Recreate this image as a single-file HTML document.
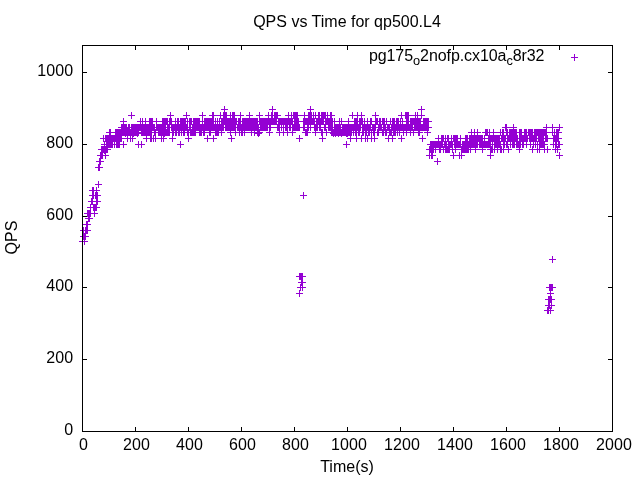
<!DOCTYPE html>
<html><head><meta charset="utf-8"><title>QPS vs Time for qp500.L4</title>
<style>
html,body{margin:0;padding:0;background:#fff;}
body{width:640px;height:480px;overflow:hidden;}
svg{display:block;}
text{font-family:"Liberation Sans",Arial,sans-serif;font-size:16px;fill:#000;}
.n{letter-spacing:0.1px;}
.ax{stroke:#000;stroke-width:1;fill:none;shape-rendering:crispEdges;}
.pt{stroke:#9400d3;stroke-width:1;fill:none;shape-rendering:crispEdges;}
</style></head><body>
<svg width="640" height="480" viewBox="0 0 640 480">
<rect x="0" y="0" width="640" height="480" fill="#ffffff"/>
<text x="347" y="27" text-anchor="middle">QPS vs Time for qp500.L4</text>
<text transform="translate(17,237.5) rotate(-90)" text-anchor="middle">QPS</text>
<text x="347" y="472" text-anchor="middle">Time(s)</text>
<path class="ax" d="M82.5,431v-4M82.5,46v4M135.5,431v-4M135.5,46v4M188.5,431v-4M188.5,46v4M241.5,431v-4M241.5,46v4M294.5,431v-4M294.5,46v4M347.5,431v-4M347.5,46v4M400.5,431v-4M400.5,46v4M453.5,431v-4M453.5,46v4M506.5,431v-4M506.5,46v4M559.5,431v-4M559.5,46v4M612.5,431v-4M612.5,46v4M83,431.5h4M612,431.5h-4M83,359.5h4M612,359.5h-4M83,287.5h4M612,287.5h-4M83,216.5h4M612,216.5h-4M83,144.5h4M612,144.5h-4M83,72.5h4M612,72.5h-4"/>
<text x="79.0" y="450" class="n">0</text>
<text x="123.0" y="450" class="n">200</text>
<text x="176.0" y="450" class="n">400</text>
<text x="229.0" y="450" class="n">600</text>
<text x="282.0" y="450" class="n">800</text>
<text x="331.0" y="450" class="n">1000</text>
<text x="384.0" y="450" class="n">1200</text>
<text x="437.0" y="450" class="n">1400</text>
<text x="490.0" y="450" class="n">1600</text>
<text x="543.0" y="450" class="n">1800</text>
<text x="596.0" y="450" class="n">2000</text>
<text x="64.2" y="435" class="n">0</text>
<text x="46.2" y="363" class="n">200</text>
<text x="46.2" y="291" class="n">400</text>
<text x="46.2" y="220" class="n">600</text>
<text x="46.2" y="148" class="n">800</text>
<text x="37.2" y="76" class="n">1000</text>
<text x="368.9" y="61" textLength="175.6" lengthAdjust="spacing">pg175<tspan font-size="12.8px" dy="3.6">o</tspan><tspan dy="-3.6">2nofp.cx10a</tspan><tspan font-size="12.8px" dy="3.6">c</tspan><tspan dy="-3.6">8r32</tspan></text>
<path class="pt" d="M571,57.5h7M574.5,54v7M79,241.5h7M82.5,238v7M81,241.5h7M84.5,238v7M80,236.5h7M83.5,233v7M81,236.5h7M84.5,233v7M82,236.5h7M85.5,233v7M80,230.5h7M83.5,227v7M82,230.5h7M85.5,227v7M83,230.5h7M86.5,227v7M84,230.5h7M87.5,227v7M83,224.5h7M86.5,221v7M84,224.5h7M87.5,221v7M85,218.5h7M88.5,215v7M86,218.5h7M89.5,215v7M84,213.5h7M87.5,210v7M85,213.5h7M88.5,210v7M86,213.5h7M89.5,210v7M87,213.5h7M90.5,210v7M91,213.5h7M94.5,210v7M87,207.5h7M90.5,204v7M90,207.5h7M93.5,204v7M91,207.5h7M94.5,204v7M92,207.5h7M95.5,204v7M93,207.5h7M96.5,204v7M88,201.5h7M91.5,198v7M89,201.5h7M92.5,198v7M93,201.5h7M96.5,198v7M94,201.5h7M97.5,198v7M89,195.5h7M92.5,192v7M90,195.5h7M93.5,192v7M92,195.5h7M95.5,192v7M93,195.5h7M96.5,192v7M94,195.5h7M97.5,192v7M89,190.5h7M92.5,187v7M90,190.5h7M93.5,187v7M93,190.5h7M96.5,187v7M95,184.5h7M98.5,181v7M95,167.5h7M98.5,164v7M96,167.5h7M99.5,164v7M96,161.5h7M99.5,158v7M97,161.5h7M100.5,158v7M97,155.5h7M100.5,152v7M98,155.5h7M101.5,152v7M99,155.5h7M102.5,152v7M102,155.5h7M105.5,152v7M98,149.5h7M101.5,146v7M99,149.5h7M102.5,146v7M100,149.5h7M103.5,146v7M101,149.5h7M104.5,146v7M102,149.5h7M105.5,146v7M103,149.5h7M106.5,146v7M104,149.5h7M107.5,146v7M101,144.5h7M104.5,141v7M103,144.5h7M106.5,141v7M104,144.5h7M107.5,141v7M105,144.5h7M108.5,141v7M106,144.5h7M109.5,141v7M107,144.5h7M110.5,141v7M108,144.5h7M111.5,141v7M109,144.5h7M112.5,141v7M111,144.5h7M114.5,141v7M113,144.5h7M116.5,141v7M114,144.5h7M117.5,141v7M115,144.5h7M118.5,141v7M116,144.5h7M119.5,141v7M120,144.5h7M123.5,141v7M135,144.5h7M138.5,141v7M138,144.5h7M141.5,141v7M100,138.5h7M103.5,135v7M102,138.5h7M105.5,135v7M103,138.5h7M106.5,135v7M104,138.5h7M107.5,135v7M105,138.5h7M108.5,135v7M106,138.5h7M109.5,135v7M107,138.5h7M110.5,135v7M108,138.5h7M111.5,135v7M109,138.5h7M112.5,135v7M110,138.5h7M113.5,135v7M111,138.5h7M114.5,135v7M112,138.5h7M115.5,135v7M113,138.5h7M116.5,135v7M114,138.5h7M117.5,135v7M115,138.5h7M118.5,135v7M116,138.5h7M119.5,135v7M117,138.5h7M120.5,135v7M118,138.5h7M121.5,135v7M124,138.5h7M127.5,135v7M127,138.5h7M130.5,135v7M129,138.5h7M132.5,135v7M143,138.5h7M146.5,135v7M147,138.5h7M150.5,135v7M148,138.5h7M151.5,135v7M150,138.5h7M153.5,135v7M152,138.5h7M155.5,135v7M158,138.5h7M161.5,135v7M160,138.5h7M163.5,135v7M169,138.5h7M172.5,135v7M106,132.5h7M109.5,129v7M107,132.5h7M110.5,129v7M112,132.5h7M115.5,129v7M113,132.5h7M116.5,129v7M114,132.5h7M117.5,129v7M115,132.5h7M118.5,129v7M116,132.5h7M119.5,129v7M117,132.5h7M120.5,129v7M118,132.5h7M121.5,129v7M119,132.5h7M122.5,129v7M120,132.5h7M123.5,129v7M121,132.5h7M124.5,129v7M122,132.5h7M125.5,129v7M123,132.5h7M126.5,129v7M124,132.5h7M127.5,129v7M125,132.5h7M128.5,129v7M126,132.5h7M129.5,129v7M127,132.5h7M130.5,129v7M128,132.5h7M131.5,129v7M129,132.5h7M132.5,129v7M130,132.5h7M133.5,129v7M131,132.5h7M134.5,129v7M132,132.5h7M135.5,129v7M133,132.5h7M136.5,129v7M134,132.5h7M137.5,129v7M135,132.5h7M138.5,129v7M138,132.5h7M141.5,129v7M139,132.5h7M142.5,129v7M140,132.5h7M143.5,129v7M141,132.5h7M144.5,129v7M142,132.5h7M145.5,129v7M143,132.5h7M146.5,129v7M144,132.5h7M147.5,129v7M145,132.5h7M148.5,129v7M146,132.5h7M149.5,129v7M147,132.5h7M150.5,129v7M148,132.5h7M151.5,129v7M151,132.5h7M154.5,129v7M152,132.5h7M155.5,129v7M155,132.5h7M158.5,129v7M156,132.5h7M159.5,129v7M157,132.5h7M160.5,129v7M158,132.5h7M161.5,129v7M159,132.5h7M162.5,129v7M160,132.5h7M163.5,129v7M161,132.5h7M164.5,129v7M162,132.5h7M165.5,129v7M163,132.5h7M166.5,129v7M164,132.5h7M167.5,129v7M165,132.5h7M168.5,129v7M166,132.5h7M169.5,129v7M169,132.5h7M172.5,129v7M170,132.5h7M173.5,129v7M172,132.5h7M175.5,129v7M118,127.5h7M121.5,124v7M119,127.5h7M122.5,124v7M120,127.5h7M123.5,124v7M121,127.5h7M124.5,124v7M122,127.5h7M125.5,124v7M123,127.5h7M126.5,124v7M125,127.5h7M128.5,124v7M126,127.5h7M129.5,124v7M128,127.5h7M131.5,124v7M129,127.5h7M132.5,124v7M130,127.5h7M133.5,124v7M131,127.5h7M134.5,124v7M132,127.5h7M135.5,124v7M133,127.5h7M136.5,124v7M134,127.5h7M137.5,124v7M135,127.5h7M138.5,124v7M136,127.5h7M139.5,124v7M137,127.5h7M140.5,124v7M138,127.5h7M141.5,124v7M139,127.5h7M142.5,124v7M140,127.5h7M143.5,124v7M141,127.5h7M144.5,124v7M142,127.5h7M145.5,124v7M143,127.5h7M146.5,124v7M144,127.5h7M147.5,124v7M145,127.5h7M148.5,124v7M146,127.5h7M149.5,124v7M147,127.5h7M150.5,124v7M148,127.5h7M151.5,124v7M149,127.5h7M152.5,124v7M150,127.5h7M153.5,124v7M151,127.5h7M154.5,124v7M153,127.5h7M156.5,124v7M154,127.5h7M157.5,124v7M155,127.5h7M158.5,124v7M156,127.5h7M159.5,124v7M157,127.5h7M160.5,124v7M158,127.5h7M161.5,124v7M159,127.5h7M162.5,124v7M160,127.5h7M163.5,124v7M161,127.5h7M164.5,124v7M162,127.5h7M165.5,124v7M164,127.5h7M167.5,124v7M165,127.5h7M168.5,124v7M166,127.5h7M169.5,124v7M168,127.5h7M171.5,124v7M169,127.5h7M172.5,124v7M170,127.5h7M173.5,124v7M171,127.5h7M174.5,124v7M172,127.5h7M175.5,124v7M173,127.5h7M176.5,124v7M120,121.5h7M123.5,118v7M137,121.5h7M140.5,118v7M139,121.5h7M142.5,118v7M142,121.5h7M145.5,118v7M146,121.5h7M149.5,118v7M147,121.5h7M150.5,118v7M148,121.5h7M151.5,118v7M149,121.5h7M152.5,118v7M153,121.5h7M156.5,118v7M159,121.5h7M162.5,118v7M160,121.5h7M163.5,118v7M161,121.5h7M164.5,118v7M162,121.5h7M165.5,118v7M163,121.5h7M166.5,118v7M164,121.5h7M167.5,118v7M166,121.5h7M169.5,118v7M167,121.5h7M170.5,118v7M168,121.5h7M171.5,118v7M172,121.5h7M175.5,118v7M128,115.5h7M131.5,112v7M167,115.5h7M170.5,112v7M134,133.5h7M137.5,130v7M177,144.5h7M180.5,141v7M185,138.5h7M188.5,135v7M204,138.5h7M207.5,135v7M175,132.5h7M178.5,129v7M176,132.5h7M179.5,129v7M178,132.5h7M181.5,129v7M180,132.5h7M183.5,129v7M181,132.5h7M184.5,129v7M184,132.5h7M187.5,129v7M185,132.5h7M188.5,129v7M187,132.5h7M190.5,129v7M188,132.5h7M191.5,129v7M189,132.5h7M192.5,129v7M190,132.5h7M193.5,129v7M191,132.5h7M194.5,129v7M192,132.5h7M195.5,129v7M196,132.5h7M199.5,129v7M197,132.5h7M200.5,129v7M200,132.5h7M203.5,129v7M201,132.5h7M204.5,129v7M206,132.5h7M209.5,129v7M207,132.5h7M210.5,129v7M174,127.5h7M177.5,124v7M175,127.5h7M178.5,124v7M176,127.5h7M179.5,124v7M177,127.5h7M180.5,124v7M178,127.5h7M181.5,124v7M179,127.5h7M182.5,124v7M180,127.5h7M183.5,124v7M181,127.5h7M184.5,124v7M182,127.5h7M185.5,124v7M183,127.5h7M186.5,124v7M184,127.5h7M187.5,124v7M186,127.5h7M189.5,124v7M187,127.5h7M190.5,124v7M189,127.5h7M192.5,124v7M190,127.5h7M193.5,124v7M191,127.5h7M194.5,124v7M192,127.5h7M195.5,124v7M193,127.5h7M196.5,124v7M194,127.5h7M197.5,124v7M195,127.5h7M198.5,124v7M196,127.5h7M199.5,124v7M197,127.5h7M200.5,124v7M198,127.5h7M201.5,124v7M199,127.5h7M202.5,124v7M200,127.5h7M203.5,124v7M201,127.5h7M204.5,124v7M202,127.5h7M205.5,124v7M203,127.5h7M206.5,124v7M204,127.5h7M207.5,124v7M205,127.5h7M208.5,124v7M206,127.5h7M209.5,124v7M207,127.5h7M210.5,124v7M208,127.5h7M211.5,124v7M174,121.5h7M177.5,118v7M175,121.5h7M178.5,118v7M177,121.5h7M180.5,118v7M178,121.5h7M181.5,118v7M179,121.5h7M182.5,118v7M180,121.5h7M183.5,118v7M181,121.5h7M184.5,118v7M182,121.5h7M185.5,118v7M184,121.5h7M187.5,118v7M186,121.5h7M189.5,118v7M187,121.5h7M190.5,118v7M188,121.5h7M191.5,118v7M190,121.5h7M193.5,118v7M191,121.5h7M194.5,118v7M192,121.5h7M195.5,118v7M193,121.5h7M196.5,118v7M194,121.5h7M197.5,118v7M195,121.5h7M198.5,118v7M196,121.5h7M199.5,118v7M199,121.5h7M202.5,118v7M201,121.5h7M204.5,118v7M202,121.5h7M205.5,118v7M203,121.5h7M206.5,118v7M204,121.5h7M207.5,118v7M205,121.5h7M208.5,118v7M206,121.5h7M209.5,118v7M207,121.5h7M210.5,118v7M208,121.5h7M211.5,118v7M183,115.5h7M186.5,112v7M199,115.5h7M202.5,112v7M209,115.5h7M212.5,112v7M221,109.5h7M224.5,106v7M210,115.5h7M213.5,112v7M217,115.5h7M220.5,112v7M220,115.5h7M223.5,112v7M221,115.5h7M224.5,112v7M222,115.5h7M225.5,112v7M223,115.5h7M226.5,112v7M227,115.5h7M230.5,112v7M229,115.5h7M232.5,112v7M230,115.5h7M233.5,112v7M231,115.5h7M234.5,112v7M237,115.5h7M240.5,112v7M209,121.5h7M212.5,118v7M210,121.5h7M213.5,118v7M212,121.5h7M215.5,118v7M214,121.5h7M217.5,118v7M216,121.5h7M219.5,118v7M218,121.5h7M221.5,118v7M219,121.5h7M222.5,118v7M220,121.5h7M223.5,118v7M221,121.5h7M224.5,118v7M222,121.5h7M225.5,118v7M223,121.5h7M226.5,118v7M224,121.5h7M227.5,118v7M225,121.5h7M228.5,118v7M226,121.5h7M229.5,118v7M227,121.5h7M230.5,118v7M228,121.5h7M231.5,118v7M229,121.5h7M232.5,118v7M230,121.5h7M233.5,118v7M231,121.5h7M234.5,118v7M232,121.5h7M235.5,118v7M233,121.5h7M236.5,118v7M235,121.5h7M238.5,118v7M236,121.5h7M239.5,118v7M237,121.5h7M240.5,118v7M239,121.5h7M242.5,118v7M240,121.5h7M243.5,118v7M241,121.5h7M244.5,118v7M242,121.5h7M245.5,118v7M243,121.5h7M246.5,118v7M244,121.5h7M247.5,118v7M209,127.5h7M212.5,124v7M210,127.5h7M213.5,124v7M211,127.5h7M214.5,124v7M212,127.5h7M215.5,124v7M213,127.5h7M216.5,124v7M214,127.5h7M217.5,124v7M215,127.5h7M218.5,124v7M216,127.5h7M219.5,124v7M217,127.5h7M220.5,124v7M218,127.5h7M221.5,124v7M219,127.5h7M222.5,124v7M220,127.5h7M223.5,124v7M222,127.5h7M225.5,124v7M223,127.5h7M226.5,124v7M224,127.5h7M227.5,124v7M225,127.5h7M228.5,124v7M226,127.5h7M229.5,124v7M227,127.5h7M230.5,124v7M228,127.5h7M231.5,124v7M229,127.5h7M232.5,124v7M230,127.5h7M233.5,124v7M231,127.5h7M234.5,124v7M232,127.5h7M235.5,124v7M234,127.5h7M237.5,124v7M235,127.5h7M238.5,124v7M236,127.5h7M239.5,124v7M237,127.5h7M240.5,124v7M238,127.5h7M241.5,124v7M239,127.5h7M242.5,124v7M240,127.5h7M243.5,124v7M241,127.5h7M244.5,124v7M242,127.5h7M245.5,124v7M243,127.5h7M246.5,124v7M244,127.5h7M247.5,124v7M212,132.5h7M215.5,129v7M213,132.5h7M216.5,129v7M214,132.5h7M217.5,129v7M215,132.5h7M218.5,129v7M218,132.5h7M221.5,129v7M227,132.5h7M230.5,129v7M232,132.5h7M235.5,129v7M236,132.5h7M239.5,129v7M238,132.5h7M241.5,129v7M239,132.5h7M242.5,129v7M241,132.5h7M244.5,129v7M210,138.5h7M213.5,135v7M228,138.5h7M231.5,135v7M269,109.5h7M272.5,106v7M246,115.5h7M249.5,112v7M256,115.5h7M259.5,112v7M265,115.5h7M268.5,112v7M268,115.5h7M271.5,112v7M269,115.5h7M272.5,112v7M271,115.5h7M274.5,112v7M272,115.5h7M275.5,112v7M273,115.5h7M276.5,112v7M274,115.5h7M277.5,112v7M245,121.5h7M248.5,118v7M246,121.5h7M249.5,118v7M247,121.5h7M250.5,118v7M248,121.5h7M251.5,118v7M249,121.5h7M252.5,118v7M250,121.5h7M253.5,118v7M251,121.5h7M254.5,118v7M252,121.5h7M255.5,118v7M253,121.5h7M256.5,118v7M254,121.5h7M257.5,118v7M256,121.5h7M259.5,118v7M257,121.5h7M260.5,118v7M258,121.5h7M261.5,118v7M259,121.5h7M262.5,118v7M260,121.5h7M263.5,118v7M261,121.5h7M264.5,118v7M262,121.5h7M265.5,118v7M263,121.5h7M266.5,118v7M264,121.5h7M267.5,118v7M265,121.5h7M268.5,118v7M266,121.5h7M269.5,118v7M267,121.5h7M270.5,118v7M268,121.5h7M271.5,118v7M269,121.5h7M272.5,118v7M270,121.5h7M273.5,118v7M271,121.5h7M274.5,118v7M272,121.5h7M275.5,118v7M273,121.5h7M276.5,118v7M275,121.5h7M278.5,118v7M276,121.5h7M279.5,118v7M277,121.5h7M280.5,118v7M278,121.5h7M281.5,118v7M279,121.5h7M282.5,118v7M280,121.5h7M283.5,118v7M245,127.5h7M248.5,124v7M246,127.5h7M249.5,124v7M247,127.5h7M250.5,124v7M248,127.5h7M251.5,124v7M249,127.5h7M252.5,124v7M250,127.5h7M253.5,124v7M251,127.5h7M254.5,124v7M252,127.5h7M255.5,124v7M253,127.5h7M256.5,124v7M254,127.5h7M257.5,124v7M255,127.5h7M258.5,124v7M257,127.5h7M260.5,124v7M258,127.5h7M261.5,124v7M259,127.5h7M262.5,124v7M260,127.5h7M263.5,124v7M261,127.5h7M264.5,124v7M262,127.5h7M265.5,124v7M263,127.5h7M266.5,124v7M264,127.5h7M267.5,124v7M266,127.5h7M269.5,124v7M267,127.5h7M270.5,124v7M274,127.5h7M277.5,124v7M275,127.5h7M278.5,124v7M276,127.5h7M279.5,124v7M278,127.5h7M281.5,124v7M280,127.5h7M283.5,124v7M248,132.5h7M251.5,129v7M251,132.5h7M254.5,129v7M254,132.5h7M257.5,129v7M256,132.5h7M259.5,129v7M266,132.5h7M269.5,129v7M276,132.5h7M279.5,129v7M280,132.5h7M283.5,129v7M255,133.5h7M258.5,130v7M173,132.5h7M176.5,129v7M198,132.5h7M201.5,129v7M307,109.5h7M310.5,106v7M285,115.5h7M288.5,112v7M288,115.5h7M291.5,112v7M290,115.5h7M293.5,112v7M291,115.5h7M294.5,112v7M292,115.5h7M295.5,112v7M293,115.5h7M296.5,112v7M294,115.5h7M297.5,112v7M301,115.5h7M304.5,112v7M305,115.5h7M308.5,112v7M306,115.5h7M309.5,112v7M307,115.5h7M310.5,112v7M308,115.5h7M311.5,112v7M310,115.5h7M313.5,112v7M312,115.5h7M315.5,112v7M315,115.5h7M318.5,112v7M316,115.5h7M319.5,112v7M281,121.5h7M284.5,118v7M282,121.5h7M285.5,118v7M283,121.5h7M286.5,118v7M284,121.5h7M287.5,118v7M285,121.5h7M288.5,118v7M286,121.5h7M289.5,118v7M287,121.5h7M290.5,118v7M288,121.5h7M291.5,118v7M289,121.5h7M292.5,118v7M291,121.5h7M294.5,118v7M292,121.5h7M295.5,118v7M293,121.5h7M296.5,118v7M294,121.5h7M297.5,118v7M295,121.5h7M298.5,118v7M300,121.5h7M303.5,118v7M301,121.5h7M304.5,118v7M302,121.5h7M305.5,118v7M303,121.5h7M306.5,118v7M304,121.5h7M307.5,118v7M305,121.5h7M308.5,118v7M306,121.5h7M309.5,118v7M307,121.5h7M310.5,118v7M308,121.5h7M311.5,118v7M309,121.5h7M312.5,118v7M310,121.5h7M313.5,118v7M311,121.5h7M314.5,118v7M313,121.5h7M316.5,118v7M314,121.5h7M317.5,118v7M315,121.5h7M318.5,118v7M316,121.5h7M319.5,118v7M282,127.5h7M285.5,124v7M283,127.5h7M286.5,124v7M284,127.5h7M287.5,124v7M286,127.5h7M289.5,124v7M287,127.5h7M290.5,124v7M289,127.5h7M292.5,124v7M290,127.5h7M293.5,124v7M291,127.5h7M294.5,124v7M292,127.5h7M295.5,124v7M293,127.5h7M296.5,124v7M294,127.5h7M297.5,124v7M295,127.5h7M298.5,124v7M296,127.5h7M299.5,124v7M300,127.5h7M303.5,124v7M301,127.5h7M304.5,124v7M304,127.5h7M307.5,124v7M305,127.5h7M308.5,124v7M307,127.5h7M310.5,124v7M311,127.5h7M314.5,124v7M312,127.5h7M315.5,124v7M313,127.5h7M316.5,124v7M314,127.5h7M317.5,124v7M316,127.5h7M319.5,124v7M284,132.5h7M287.5,129v7M289,132.5h7M292.5,129v7M302,132.5h7M305.5,129v7M303,132.5h7M306.5,129v7M304,132.5h7M307.5,129v7M312,132.5h7M315.5,129v7M296,138.5h7M299.5,135v7M318,115.5h7M321.5,112v7M319,115.5h7M322.5,112v7M320,115.5h7M323.5,112v7M321,115.5h7M324.5,112v7M322,115.5h7M325.5,112v7M324,115.5h7M327.5,112v7M327,115.5h7M330.5,112v7M328,115.5h7M331.5,112v7M349,115.5h7M352.5,112v7M317,121.5h7M320.5,118v7M318,121.5h7M321.5,118v7M319,121.5h7M322.5,118v7M320,121.5h7M323.5,118v7M322,121.5h7M325.5,118v7M323,121.5h7M326.5,118v7M324,121.5h7M327.5,118v7M325,121.5h7M328.5,118v7M326,121.5h7M329.5,118v7M327,121.5h7M330.5,118v7M328,121.5h7M331.5,118v7M329,121.5h7M332.5,118v7M331,121.5h7M334.5,118v7M336,121.5h7M339.5,118v7M338,121.5h7M341.5,118v7M345,121.5h7M348.5,118v7M351,121.5h7M354.5,118v7M352,121.5h7M355.5,118v7M317,127.5h7M320.5,124v7M321,127.5h7M324.5,124v7M322,127.5h7M325.5,124v7M325,127.5h7M328.5,124v7M326,127.5h7M329.5,124v7M327,127.5h7M330.5,124v7M328,127.5h7M331.5,124v7M329,127.5h7M332.5,124v7M331,127.5h7M334.5,124v7M332,127.5h7M335.5,124v7M333,127.5h7M336.5,124v7M334,127.5h7M337.5,124v7M335,127.5h7M338.5,124v7M336,127.5h7M339.5,124v7M337,127.5h7M340.5,124v7M339,127.5h7M342.5,124v7M340,127.5h7M343.5,124v7M341,127.5h7M344.5,124v7M342,127.5h7M345.5,124v7M343,127.5h7M346.5,124v7M344,127.5h7M347.5,124v7M345,127.5h7M348.5,124v7M346,127.5h7M349.5,124v7M347,127.5h7M350.5,124v7M348,127.5h7M351.5,124v7M349,127.5h7M352.5,124v7M350,127.5h7M353.5,124v7M351,127.5h7M354.5,124v7M352,127.5h7M355.5,124v7M318,132.5h7M321.5,129v7M319,132.5h7M322.5,129v7M323,132.5h7M326.5,129v7M328,132.5h7M331.5,129v7M329,132.5h7M332.5,129v7M330,132.5h7M333.5,129v7M331,132.5h7M334.5,129v7M332,132.5h7M335.5,129v7M333,132.5h7M336.5,129v7M334,132.5h7M337.5,129v7M335,132.5h7M338.5,129v7M336,132.5h7M339.5,129v7M337,132.5h7M340.5,129v7M338,132.5h7M341.5,129v7M339,132.5h7M342.5,129v7M340,132.5h7M343.5,129v7M341,132.5h7M344.5,129v7M342,132.5h7M345.5,129v7M343,132.5h7M346.5,129v7M344,132.5h7M347.5,129v7M345,132.5h7M348.5,129v7M346,132.5h7M349.5,129v7M347,132.5h7M350.5,129v7M348,132.5h7M351.5,129v7M350,132.5h7M353.5,129v7M352,132.5h7M355.5,129v7M319,138.5h7M322.5,135v7M347,138.5h7M350.5,135v7M343,144.5h7M346.5,141v7M335,133.5h7M338.5,130v7M338,133.5h7M341.5,130v7M343,133.5h7M346.5,130v7M344,133.5h7M347.5,130v7M354,115.5h7M357.5,112v7M358,115.5h7M361.5,112v7M372,115.5h7M375.5,112v7M353,121.5h7M356.5,118v7M354,121.5h7M357.5,118v7M356,121.5h7M359.5,118v7M357,121.5h7M360.5,118v7M358,121.5h7M361.5,118v7M359,121.5h7M362.5,118v7M361,121.5h7M364.5,118v7M364,121.5h7M367.5,118v7M367,121.5h7M370.5,118v7M368,121.5h7M371.5,118v7M372,121.5h7M375.5,118v7M373,121.5h7M376.5,118v7M374,121.5h7M377.5,118v7M376,121.5h7M379.5,118v7M377,121.5h7M380.5,118v7M379,121.5h7M382.5,118v7M380,121.5h7M383.5,118v7M381,121.5h7M384.5,118v7M383,121.5h7M386.5,118v7M387,121.5h7M390.5,118v7M353,127.5h7M356.5,124v7M354,127.5h7M357.5,124v7M355,127.5h7M358.5,124v7M356,127.5h7M359.5,124v7M357,127.5h7M360.5,124v7M359,127.5h7M362.5,124v7M360,127.5h7M363.5,124v7M361,127.5h7M364.5,124v7M362,127.5h7M365.5,124v7M363,127.5h7M366.5,124v7M364,127.5h7M367.5,124v7M365,127.5h7M368.5,124v7M366,127.5h7M369.5,124v7M367,127.5h7M370.5,124v7M369,127.5h7M372.5,124v7M370,127.5h7M373.5,124v7M371,127.5h7M374.5,124v7M372,127.5h7M375.5,124v7M375,127.5h7M378.5,124v7M376,127.5h7M379.5,124v7M377,127.5h7M380.5,124v7M378,127.5h7M381.5,124v7M380,127.5h7M383.5,124v7M381,127.5h7M384.5,124v7M382,127.5h7M385.5,124v7M384,127.5h7M387.5,124v7M385,127.5h7M388.5,124v7M386,127.5h7M389.5,124v7M388,127.5h7M391.5,124v7M353,132.5h7M356.5,129v7M355,132.5h7M358.5,129v7M356,132.5h7M359.5,129v7M359,132.5h7M362.5,129v7M360,132.5h7M363.5,129v7M362,132.5h7M365.5,129v7M363,132.5h7M366.5,129v7M365,132.5h7M368.5,129v7M366,132.5h7M369.5,129v7M368,132.5h7M371.5,129v7M370,132.5h7M373.5,129v7M371,132.5h7M374.5,129v7M374,132.5h7M377.5,129v7M375,132.5h7M378.5,129v7M379,132.5h7M382.5,129v7M380,132.5h7M383.5,129v7M382,132.5h7M385.5,129v7M383,132.5h7M386.5,129v7M386,132.5h7M389.5,129v7M387,132.5h7M390.5,129v7M388,132.5h7M391.5,129v7M353,138.5h7M356.5,135v7M358,138.5h7M361.5,135v7M362,138.5h7M365.5,135v7M364,138.5h7M367.5,135v7M368,138.5h7M371.5,135v7M371,138.5h7M374.5,135v7M385,138.5h7M388.5,135v7M418,109.5h7M421.5,106v7M398,115.5h7M401.5,112v7M402,115.5h7M405.5,112v7M403,115.5h7M406.5,112v7M404,115.5h7M407.5,112v7M405,115.5h7M408.5,112v7M412,115.5h7M415.5,112v7M414,115.5h7M417.5,112v7M418,115.5h7M421.5,112v7M389,121.5h7M392.5,118v7M390,121.5h7M393.5,118v7M391,121.5h7M394.5,118v7M393,121.5h7M396.5,118v7M394,121.5h7M397.5,118v7M395,121.5h7M398.5,118v7M397,121.5h7M400.5,118v7M399,121.5h7M402.5,118v7M403,121.5h7M406.5,118v7M404,121.5h7M407.5,118v7M405,121.5h7M408.5,118v7M407,121.5h7M410.5,118v7M408,121.5h7M411.5,118v7M409,121.5h7M412.5,118v7M410,121.5h7M413.5,118v7M411,121.5h7M414.5,118v7M412,121.5h7M415.5,118v7M413,121.5h7M416.5,118v7M414,121.5h7M417.5,118v7M415,121.5h7M418.5,118v7M416,121.5h7M419.5,118v7M417,121.5h7M420.5,118v7M420,121.5h7M423.5,118v7M421,121.5h7M424.5,118v7M422,121.5h7M425.5,118v7M423,121.5h7M426.5,118v7M424,121.5h7M427.5,118v7M425,121.5h7M428.5,118v7M389,127.5h7M392.5,124v7M390,127.5h7M393.5,124v7M391,127.5h7M394.5,124v7M392,127.5h7M395.5,124v7M393,127.5h7M396.5,124v7M394,127.5h7M397.5,124v7M395,127.5h7M398.5,124v7M396,127.5h7M399.5,124v7M397,127.5h7M400.5,124v7M398,127.5h7M401.5,124v7M399,127.5h7M402.5,124v7M400,127.5h7M403.5,124v7M401,127.5h7M404.5,124v7M402,127.5h7M405.5,124v7M403,127.5h7M406.5,124v7M404,127.5h7M407.5,124v7M405,127.5h7M408.5,124v7M406,127.5h7M409.5,124v7M407,127.5h7M410.5,124v7M408,127.5h7M411.5,124v7M409,127.5h7M412.5,124v7M411,127.5h7M414.5,124v7M412,127.5h7M415.5,124v7M413,127.5h7M416.5,124v7M414,127.5h7M417.5,124v7M415,127.5h7M418.5,124v7M416,127.5h7M419.5,124v7M417,127.5h7M420.5,124v7M418,127.5h7M421.5,124v7M419,127.5h7M422.5,124v7M420,127.5h7M423.5,124v7M421,127.5h7M424.5,124v7M422,127.5h7M425.5,124v7M423,127.5h7M426.5,124v7M424,127.5h7M427.5,124v7M425,127.5h7M428.5,124v7M390,132.5h7M393.5,129v7M391,132.5h7M394.5,129v7M392,132.5h7M395.5,129v7M394,132.5h7M397.5,129v7M396,132.5h7M399.5,129v7M400,132.5h7M403.5,129v7M403,132.5h7M406.5,129v7M407,132.5h7M410.5,129v7M410,132.5h7M413.5,129v7M415,132.5h7M418.5,129v7M416,132.5h7M419.5,129v7M424,132.5h7M427.5,129v7M389,138.5h7M392.5,135v7M398,138.5h7M401.5,135v7M419,138.5h7M422.5,135v7M435,138.5h7M438.5,135v7M438,138.5h7M441.5,135v7M439,138.5h7M442.5,135v7M440,138.5h7M443.5,135v7M442,138.5h7M445.5,135v7M444,138.5h7M447.5,135v7M445,138.5h7M448.5,135v7M448,138.5h7M451.5,135v7M450,138.5h7M453.5,135v7M451,138.5h7M454.5,135v7M452,138.5h7M455.5,135v7M453,138.5h7M456.5,135v7M454,138.5h7M457.5,135v7M427,144.5h7M430.5,141v7M428,144.5h7M431.5,141v7M429,144.5h7M432.5,141v7M430,144.5h7M433.5,141v7M431,144.5h7M434.5,141v7M432,144.5h7M435.5,141v7M433,144.5h7M436.5,141v7M434,144.5h7M437.5,141v7M435,144.5h7M438.5,141v7M436,144.5h7M439.5,141v7M437,144.5h7M440.5,141v7M438,144.5h7M441.5,141v7M439,144.5h7M442.5,141v7M441,144.5h7M444.5,141v7M442,144.5h7M445.5,141v7M443,144.5h7M446.5,141v7M445,144.5h7M448.5,141v7M446,144.5h7M449.5,141v7M447,144.5h7M450.5,141v7M448,144.5h7M451.5,141v7M449,144.5h7M452.5,141v7M451,144.5h7M454.5,141v7M452,144.5h7M455.5,141v7M453,144.5h7M456.5,141v7M454,144.5h7M457.5,141v7M455,144.5h7M458.5,141v7M456,144.5h7M459.5,141v7M426,149.5h7M429.5,146v7M427,149.5h7M430.5,146v7M428,149.5h7M431.5,146v7M429,149.5h7M432.5,146v7M430,149.5h7M433.5,146v7M432,149.5h7M435.5,146v7M436,149.5h7M439.5,146v7M437,149.5h7M440.5,146v7M440,149.5h7M443.5,146v7M442,149.5h7M445.5,146v7M443,149.5h7M446.5,146v7M444,149.5h7M447.5,146v7M445,149.5h7M448.5,146v7M446,149.5h7M449.5,146v7M449,149.5h7M452.5,146v7M452,149.5h7M455.5,146v7M426,155.5h7M429.5,152v7M428,155.5h7M431.5,152v7M429,155.5h7M432.5,152v7M450,155.5h7M453.5,152v7M456,155.5h7M459.5,152v7M434,161.5h7M437.5,158v7M468,132.5h7M471.5,129v7M471,132.5h7M474.5,129v7M474,132.5h7M477.5,129v7M482,132.5h7M485.5,129v7M483,132.5h7M486.5,129v7M484,132.5h7M487.5,129v7M486,132.5h7M489.5,129v7M490,132.5h7M493.5,129v7M457,138.5h7M460.5,135v7M462,138.5h7M465.5,135v7M463,138.5h7M466.5,135v7M464,138.5h7M467.5,135v7M466,138.5h7M469.5,135v7M467,138.5h7M470.5,135v7M468,138.5h7M471.5,135v7M469,138.5h7M472.5,135v7M470,138.5h7M473.5,135v7M471,138.5h7M474.5,135v7M472,138.5h7M475.5,135v7M473,138.5h7M476.5,135v7M474,138.5h7M477.5,135v7M475,138.5h7M478.5,135v7M476,138.5h7M479.5,135v7M477,138.5h7M480.5,135v7M478,138.5h7M481.5,135v7M479,138.5h7M482.5,135v7M481,138.5h7M484.5,135v7M485,138.5h7M488.5,135v7M486,138.5h7M489.5,135v7M487,138.5h7M490.5,135v7M488,138.5h7M491.5,135v7M489,138.5h7M492.5,135v7M490,138.5h7M493.5,135v7M491,138.5h7M494.5,135v7M492,138.5h7M495.5,135v7M457,144.5h7M460.5,141v7M459,144.5h7M462.5,141v7M460,144.5h7M463.5,141v7M461,144.5h7M464.5,141v7M462,144.5h7M465.5,141v7M463,144.5h7M466.5,141v7M464,144.5h7M467.5,141v7M465,144.5h7M468.5,141v7M466,144.5h7M469.5,141v7M467,144.5h7M470.5,141v7M468,144.5h7M471.5,141v7M469,144.5h7M472.5,141v7M470,144.5h7M473.5,141v7M471,144.5h7M474.5,141v7M472,144.5h7M475.5,141v7M473,144.5h7M476.5,141v7M474,144.5h7M477.5,141v7M476,144.5h7M479.5,141v7M477,144.5h7M480.5,141v7M478,144.5h7M481.5,141v7M479,144.5h7M482.5,141v7M480,144.5h7M483.5,141v7M481,144.5h7M484.5,141v7M482,144.5h7M485.5,141v7M483,144.5h7M486.5,141v7M484,144.5h7M487.5,141v7M485,144.5h7M488.5,141v7M486,144.5h7M489.5,141v7M487,144.5h7M490.5,141v7M489,144.5h7M492.5,141v7M491,144.5h7M494.5,141v7M492,144.5h7M495.5,141v7M458,149.5h7M461.5,146v7M459,149.5h7M462.5,146v7M460,149.5h7M463.5,146v7M461,149.5h7M464.5,146v7M462,149.5h7M465.5,146v7M463,149.5h7M466.5,146v7M464,149.5h7M467.5,146v7M465,149.5h7M468.5,146v7M467,149.5h7M470.5,146v7M472,149.5h7M475.5,146v7M479,149.5h7M482.5,146v7M487,149.5h7M490.5,146v7M488,149.5h7M491.5,146v7M489,149.5h7M492.5,146v7M491,149.5h7M494.5,146v7M458,155.5h7M461.5,152v7M487,155.5h7M490.5,152v7M502,127.5h7M505.5,124v7M503,127.5h7M506.5,124v7M510,127.5h7M513.5,124v7M497,132.5h7M500.5,129v7M499,132.5h7M502.5,129v7M500,132.5h7M503.5,129v7M503,132.5h7M506.5,129v7M504,132.5h7M507.5,129v7M506,132.5h7M509.5,129v7M507,132.5h7M510.5,129v7M508,132.5h7M511.5,129v7M509,132.5h7M512.5,129v7M510,132.5h7M513.5,129v7M511,132.5h7M514.5,129v7M512,132.5h7M515.5,129v7M513,132.5h7M516.5,129v7M516,132.5h7M519.5,129v7M517,132.5h7M520.5,129v7M518,132.5h7M521.5,129v7M521,132.5h7M524.5,129v7M522,132.5h7M525.5,129v7M523,132.5h7M526.5,129v7M525,132.5h7M528.5,129v7M526,132.5h7M529.5,129v7M527,132.5h7M530.5,129v7M528,132.5h7M531.5,129v7M493,138.5h7M496.5,135v7M494,138.5h7M497.5,135v7M495,138.5h7M498.5,135v7M496,138.5h7M499.5,135v7M498,138.5h7M501.5,135v7M499,138.5h7M502.5,135v7M500,138.5h7M503.5,135v7M501,138.5h7M504.5,135v7M502,138.5h7M505.5,135v7M504,138.5h7M507.5,135v7M505,138.5h7M508.5,135v7M506,138.5h7M509.5,135v7M507,138.5h7M510.5,135v7M508,138.5h7M511.5,135v7M509,138.5h7M512.5,135v7M510,138.5h7M513.5,135v7M511,138.5h7M514.5,135v7M512,138.5h7M515.5,135v7M513,138.5h7M516.5,135v7M514,138.5h7M517.5,135v7M516,138.5h7M519.5,135v7M517,138.5h7M520.5,135v7M518,138.5h7M521.5,135v7M519,138.5h7M522.5,135v7M520,138.5h7M523.5,135v7M521,138.5h7M524.5,135v7M522,138.5h7M525.5,135v7M523,138.5h7M526.5,135v7M524,138.5h7M527.5,135v7M526,138.5h7M529.5,135v7M527,138.5h7M530.5,135v7M528,138.5h7M531.5,135v7M493,144.5h7M496.5,141v7M494,144.5h7M497.5,141v7M495,144.5h7M498.5,141v7M496,144.5h7M499.5,141v7M497,144.5h7M500.5,141v7M500,144.5h7M503.5,141v7M501,144.5h7M504.5,141v7M503,144.5h7M506.5,141v7M504,144.5h7M507.5,141v7M507,144.5h7M510.5,141v7M509,144.5h7M512.5,141v7M510,144.5h7M513.5,141v7M511,144.5h7M514.5,141v7M513,144.5h7M516.5,141v7M514,144.5h7M517.5,141v7M515,144.5h7M518.5,141v7M516,144.5h7M519.5,141v7M517,144.5h7M520.5,141v7M519,144.5h7M522.5,141v7M520,144.5h7M523.5,141v7M523,144.5h7M526.5,141v7M527,144.5h7M530.5,141v7M494,149.5h7M497.5,146v7M497,149.5h7M500.5,146v7M498,149.5h7M501.5,146v7M500,149.5h7M503.5,146v7M505,149.5h7M508.5,146v7M516,149.5h7M519.5,146v7M543,127.5h7M546.5,124v7M549,127.5h7M552.5,124v7M556,127.5h7M559.5,124v7M529,132.5h7M532.5,129v7M531,132.5h7M534.5,129v7M532,132.5h7M535.5,129v7M533,132.5h7M536.5,129v7M534,132.5h7M537.5,129v7M535,132.5h7M538.5,129v7M536,132.5h7M539.5,129v7M537,132.5h7M540.5,129v7M538,132.5h7M541.5,129v7M539,132.5h7M542.5,129v7M540,132.5h7M543.5,129v7M541,132.5h7M544.5,129v7M542,132.5h7M545.5,129v7M543,132.5h7M546.5,129v7M551,132.5h7M554.5,129v7M553,132.5h7M556.5,129v7M554,132.5h7M557.5,129v7M555,132.5h7M558.5,129v7M529,138.5h7M532.5,135v7M530,138.5h7M533.5,135v7M531,138.5h7M534.5,135v7M532,138.5h7M535.5,135v7M533,138.5h7M536.5,135v7M535,138.5h7M538.5,135v7M536,138.5h7M539.5,135v7M537,138.5h7M540.5,135v7M538,138.5h7M541.5,135v7M539,138.5h7M542.5,135v7M540,138.5h7M543.5,135v7M542,138.5h7M545.5,135v7M543,138.5h7M546.5,135v7M544,138.5h7M547.5,135v7M550,138.5h7M553.5,135v7M551,138.5h7M554.5,135v7M552,138.5h7M555.5,135v7M553,138.5h7M556.5,135v7M554,138.5h7M557.5,135v7M555,138.5h7M558.5,135v7M530,144.5h7M533.5,141v7M532,144.5h7M535.5,141v7M534,144.5h7M537.5,141v7M536,144.5h7M539.5,141v7M537,144.5h7M540.5,141v7M538,144.5h7M541.5,141v7M539,144.5h7M542.5,141v7M540,144.5h7M543.5,141v7M541,144.5h7M544.5,141v7M550,144.5h7M553.5,141v7M552,144.5h7M555.5,141v7M553,144.5h7M556.5,141v7M555,144.5h7M558.5,141v7M556,144.5h7M559.5,141v7M529,149.5h7M532.5,146v7M534,149.5h7M537.5,146v7M536,149.5h7M539.5,146v7M541,149.5h7M544.5,146v7M544,149.5h7M547.5,146v7M552,149.5h7M555.5,146v7M554,149.5h7M557.5,146v7M556,155.5h7M559.5,152v7M549,132.5h7M552.5,129v7M300,195.5h7M303.5,192v7M296,276.5h7M299.5,273v7M297,276.5h7M300.5,273v7M298,276.5h7M301.5,273v7M299,276.5h7M302.5,273v7M298,282.5h7M301.5,279v7M299,282.5h7M302.5,279v7M297,287.5h7M300.5,284v7M299,287.5h7M302.5,284v7M296,293.5h7M299.5,290v7M549,259.5h7M552.5,256v7M546,287.5h7M549.5,284v7M547,287.5h7M550.5,284v7M548,287.5h7M551.5,284v7M549,287.5h7M552.5,284v7M547,293.5h7M550.5,290v7M545,299.5h7M548.5,296v7M546,299.5h7M549.5,296v7M547,299.5h7M550.5,296v7M548,299.5h7M551.5,296v7M545,305.5h7M548.5,302v7M546,305.5h7M549.5,302v7M548,305.5h7M551.5,302v7M544,310.5h7M547.5,307v7M545,310.5h7M548.5,307v7M547,310.5h7M550.5,307v7M124,131.5h7M127.5,128v7M122,133.5h7M125.5,130v7M130,133.5h7M133.5,130v7M161,133.5h7M164.5,130v7M330,133.5h7M333.5,130v7M332,133.5h7M335.5,130v7M101,150.5h7M104.5,147v7"/>
<path class="ax" d="M82.5,45.5V431.5H612.5V45.5Z"/>
</svg>
</body></html>
